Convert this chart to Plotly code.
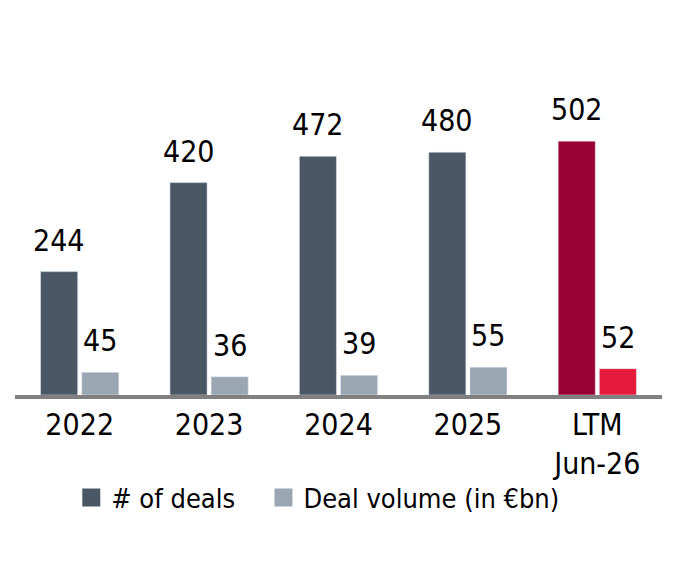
import plotly.graph_objects as go

# ── data ──────────────────────────────────────────────
categories = ["2022", "2023", "2024", "2025", "LTM<br>Jun-26"]
deals = [244, 420, 472, 480, 502]
volume = [45, 36, 39, 55, 52]

deal_colors = ["#4a5866", "#4a5866", "#4a5866", "#4a5866", "#990033"]
volume_colors = ["#9aa7b3", "#9aa7b3", "#9aa7b3", "#9aa7b3", "#e51a3d"]

FONT = "DejaVu Sans Condensed, DejaVu Sans, sans-serif"

fig = go.Figure()
fig.add_trace(go.Bar(x=categories, y=deals, marker_color=deal_colors,
                     showlegend=False, hoverinfo="x+y"))
fig.add_trace(go.Bar(x=categories, y=volume, marker_color=volume_colors,
                     showlegend=False, hoverinfo="x+y"))

# legend entries on a hidden axis pair (bigger squares than the bar symbol)
fig.add_trace(go.Scatter(x=[0], y=[None], mode="markers", name="# of deals",
                         xaxis="x2", yaxis="y2", legend="legend",
                         marker=dict(symbol="square", size=16, color="#4a5866",
                                     line=dict(width=2, color="#4a5866"))))
fig.add_trace(go.Scatter(x=[0], y=[None], mode="markers", name="Deal volume (in €bn)",
                         xaxis="x2", yaxis="y2", legend="legend2",
                         marker=dict(symbol="square", size=16, color="#9aa7b3",
                                     line=dict(width=2, color="#9aa7b3"))))

# value labels above the bars (x as category index, "2022" would be read as a number)
for i, (d, v) in enumerate(zip(deals, volume)):
    fig.add_annotation(x=i, y=d, text=str(d), xshift=-20.5, yshift=12,
                       yanchor="bottom", showarrow=False)
    fig.add_annotation(x=i, y=v, text=str(v), xshift=20.5, yshift=12,
                       yanchor="bottom", showarrow=False)

legend_common = dict(orientation="h", y=-0.29, yanchor="middle", xanchor="left",
                     font=dict(size=27), itemclick=False, bgcolor="rgba(0,0,0,0)")
# page body adds an 8px offset, so margins are shifted by that
fig.update_layout(
    width=681, height=579,
    margin=dict(l=7, r=27, t=32, b=192, autoexpand=False),
    barmode="group", bargap=0.364, bargroupgap=0.098,
    plot_bgcolor="white", paper_bgcolor="white",
    font=dict(family=FONT, size=30, color="black"),
    legend=dict(x=0.087, **legend_common),
    legend2=dict(x=0.384, **legend_common),
    xaxis2=dict(overlaying="x", visible=False, range=[-1, 1]),
    yaxis2=dict(overlaying="y", visible=False, range=[-1, 1]),
)
fig.layout.xaxis.update(type="category", categoryorder="array", categoryarray=categories,
                        range=[-0.5, 4.5], showline=True, linewidth=4, linecolor="#808080",
                        ticks="", showgrid=False, tickfont=dict(size=30))
fig.layout.yaxis.update(range=[0, 702], visible=False, showgrid=False, zeroline=False)

fig.write_html("out.html")
